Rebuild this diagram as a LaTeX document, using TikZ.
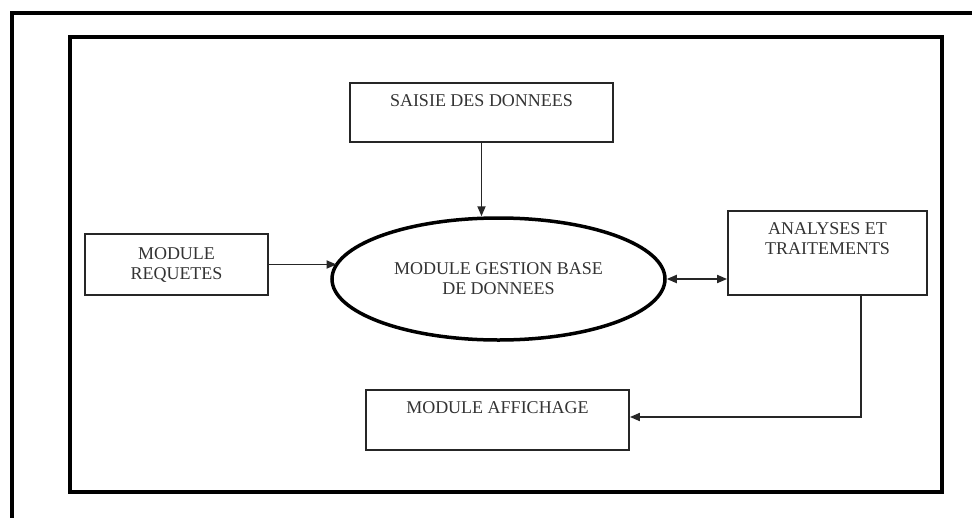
\documentclass[tikz,border=0pt]{standalone}
\usepackage{fontspec}
\setmainfont{Liberation Serif}
\usetikzlibrary{shapes.geometric,arrows.meta,positioning}
\begin{document}
\begin{tikzpicture}[x=1pt,y=-1pt,
  modbox/.style={draw=black!85,line width=1.8pt,inner sep=0pt},
  modtxt/.style={text=black!80,font=\fontsize{18}{20}\selectfont,align=center,inner sep=0pt},
  fleche/.style={draw=black!85,line width=1.8pt,-{Triangle[length=10pt,width=8pt]}}]
\useasboundingbox (0,0) rectangle (972,517);
% Cadres
\draw[line width=4pt] (11.5,520) |- (975,12.5);
\draw[line width=3.5pt] (70,37) rectangle (942,492);
% Modules
\node[modbox,minimum width=263,minimum height=59] (saisie) at (481.5,112.5) {};
\node[modtxt,anchor=north] (saisietxt) at ([yshift=-12pt]saisie.north) {SAISIE DES DONNEES};
\node[modbox,modtxt,minimum width=183,minimum height=61] (requetes) at (176.5,264.5) {MODULE\\REQUETES};
\node[modtxt,ellipse,draw=black,line width=3.5pt,minimum width=333,minimum height=122] (gestion) at (498.5,279) {MODULE GESTION BASE\\DE DONNEES};
\node[modbox,minimum width=199,minimum height=84] (analyses) at (827.5,253) {};
\node[modtxt,anchor=north] (analysestxt) at ([yshift=-12pt]analyses.north) {ANALYSES ET\\TRAITEMENTS};
\node[modbox,minimum width=263,minimum height=60] (affichage) at (497.5,420) {};
\node[modtxt,anchor=north] (affichagetxt) at ([yshift=-12pt]affichage.north) {MODULE AFFICHAGE};
% Liaisons
\draw[fleche] (saisie.south) -- (saisie.south |- gestion.north);
\draw[fleche] (requetes.east) -- (requetes.east -| gestion.174);
\draw[fleche,{Triangle[length=10pt,width=8pt]}-{Triangle[length=10pt,width=8pt]}] (gestion.east) -- (gestion.east -| analyses.west);
\coordinate (coin) at (861,417);
\draw[fleche] (analyses.south -| coin) -- (coin) -- (affichage.east |- coin);
\end{tikzpicture}
\end{document}
